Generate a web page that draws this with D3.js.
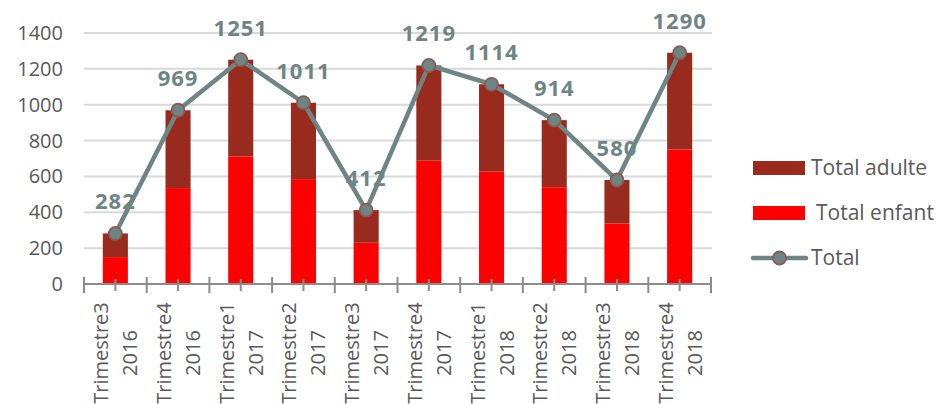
<!DOCTYPE html>
<html>
<head>
<meta charset="utf-8">
<script src="https://cdn.jsdelivr.net/npm/d3@7"></script>
<style>
  body { margin: 0; background: #fff; }
  text { font-family: "Open Sans", sans-serif; }
</style>
</head>
<body>
<div id="chart"></div>
<script>
// data
const quarters = ["Trimestre3", "Trimestre4", "Trimestre1", "Trimestre2", "Trimestre3",
                  "Trimestre4", "Trimestre1", "Trimestre2", "Trimestre3", "Trimestre4"];
const years = ["2016", "2016", "2017", "2017", "2017", "2017", "2018", "2018", "2018", "2018"];
const totalEnfant = [150, 535, 712, 585, 230, 688, 628, 540, 338, 750];
const totalGeneral = [282, 969, 1251, 1011, 412, 1219, 1114, 914, 580, 1290];
const yTicks = [0, 200, 400, 600, 800, 1000, 1200, 1400];

const width = 937, height = 404;
const colAdulte = "#982b1e", colEnfant = "#ff0000", colTotal = "#6d8583";

const rows = quarters.map((q, i) => ({
  key: i,
  q: q,
  year: years[i],
  enfant: totalEnfant[i],
  adulte: totalGeneral[i] - totalEnfant[i],
  total: totalGeneral[i]
}));

const svg = d3.select("#chart").append("svg")
  .attr("width", width)
  .attr("height", height);

const x = d3.scaleBand()
  .domain(rows.map(d => d.key))
  .range([84, 711])
  .paddingInner(0.6)
  .paddingOuter(0.3);

const y = d3.scaleLinear()
  .domain([0, 1400])
  .range([284, 33]);

// gridlines
svg.append("g").selectAll("line")
  .data(yTicks.filter(t => t > 0))
  .enter().append("line")
  .attr("x1", 84).attr("x2", 712)
  .attr("y1", d => y(d)).attr("y2", d => y(d))
  .attr("stroke", "#d9d9d9")
  .attr("stroke-width", 2);

// y labels
svg.append("g").selectAll("text")
  .data(yTicks)
  .enter().append("text")
  .attr("x", 63)
  .attr("y", d => y(d))
  .attr("dy", "0.35em")
  .attr("text-anchor", "end")
  .attr("font-size", 20)
  .attr("fill", "#595959")
  .text(d => d);

// stacked bars
const stack = d3.stack().keys(["enfant", "adulte"]);
const series = stack(rows);
const colors = { enfant: colEnfant, adulte: colAdulte };

svg.append("g").selectAll("g")
  .data(series)
  .enter().append("g")
  .attr("fill", s => colors[s.key])
  .selectAll("rect")
  .data(s => s)
  .enter().append("rect")
  .attr("x", d => x(d.data.key))
  .attr("width", x.bandwidth())
  .attr("y", d => y(d[1]))
  .attr("height", d => y(d[0]) - y(d[1]));

// x axis with crossing tick marks
const ax = svg.append("g").attr("stroke", "#8c8c8c").attr("stroke-width", 2);
ax.append("line")
  .attr("x1", 84).attr("x2", 712)
  .attr("y1", y(0)).attr("y2", y(0));
const step = x.step();
ax.selectAll("line.major")
  .data(d3.range(rows.length + 1))
  .enter().append("line")
  .attr("class", "major")
  .attr("x1", i => 84 + i * step).attr("x2", i => 84 + i * step)
  .attr("y1", y(0) - 7).attr("y2", y(0) + 9);
ax.selectAll("line.minor")
  .data(rows)
  .enter().append("line")
  .attr("class", "minor")
  .attr("x1", d => x(d.key) + x.bandwidth() / 2)
  .attr("x2", d => x(d.key) + x.bandwidth() / 2)
  .attr("y1", y(0) - 5).attr("y2", y(0) + 7);

// x labels, rotated, two lines
const xl = svg.append("g").selectAll("g")
  .data(rows)
  .enter().append("g")
  .attr("transform", d => "translate(" + (x(d.key) + x.bandwidth() / 2) + ",353) rotate(-90)");
xl.append("text")
  .attr("text-anchor", "middle")
  .attr("y", -14)
  .attr("dy", "0.35em")
  .attr("font-size", 20)
  .attr("fill", "#595959")
  .text(d => d.q);
xl.append("text")
  .attr("text-anchor", "middle")
  .attr("y", 15)
  .attr("dy", "0.35em")
  .attr("font-size", 20)
  .attr("fill", "#595959")
  .text(d => d.year);

// total line
const cx = d => x(d.key) + x.bandwidth() / 2;
const line = d3.line().x(cx).y(d => y(d.total));
svg.append("path")
  .datum(rows)
  .attr("d", line)
  .attr("fill", "none")
  .attr("stroke", colTotal)
  .attr("stroke-width", 4.5)
  .attr("stroke-linejoin", "round");

svg.append("g").selectAll("circle")
  .data(rows)
  .enter().append("circle")
  .attr("cx", cx)
  .attr("cy", d => y(d.total))
  .attr("r", 6.5)
  .attr("fill", colTotal)
  .attr("stroke", "#8e5a58")
  .attr("stroke-width", 1.8);

// data labels
svg.append("g").selectAll("text")
  .data(rows)
  .enter().append("text")
  .attr("x", cx)
  .attr("y", d => y(d.total) - 24)
  .attr("text-anchor", "middle")
  .attr("font-size", 22)
  .attr("font-weight", "bold")
  .attr("letter-spacing", 1)
  .attr("fill", colTotal)
  .text(d => d.total);

// legend
const lg = svg.append("g").attr("transform", "translate(753,0)");
lg.append("rect").attr("x", 0).attr("y", 161).attr("width", 52).attr("height", 14).attr("fill", colAdulte);
lg.append("text").attr("x", 58).attr("y", 168).attr("dy", "0.35em")
  .attr("font-size", 21).attr("fill", "#595959").text("Total adulte");
lg.append("rect").attr("x", 0).attr("y", 206).attr("width", 52).attr("height", 14).attr("fill", colEnfant);
lg.append("text").attr("x", 63).attr("y", 213).attr("dy", "0.35em")
  .attr("font-size", 21).attr("fill", "#595959").text("Total enfant");
lg.append("line").attr("x1", 0).attr("x2", 53).attr("y1", 258).attr("y2", 258)
  .attr("stroke", colTotal).attr("stroke-width", 4.5).attr("stroke-linecap", "round");
lg.append("circle").attr("cx", 26.5).attr("cy", 258).attr("r", 6.5)
  .attr("fill", colTotal).attr("stroke", "#8e5a58").attr("stroke-width", 1.8);
lg.append("text").attr("x", 58).attr("y", 258).attr("dy", "0.35em")
  .attr("font-size", 21).attr("fill", "#595959").text("Total");
</script>
</body>
</html>
